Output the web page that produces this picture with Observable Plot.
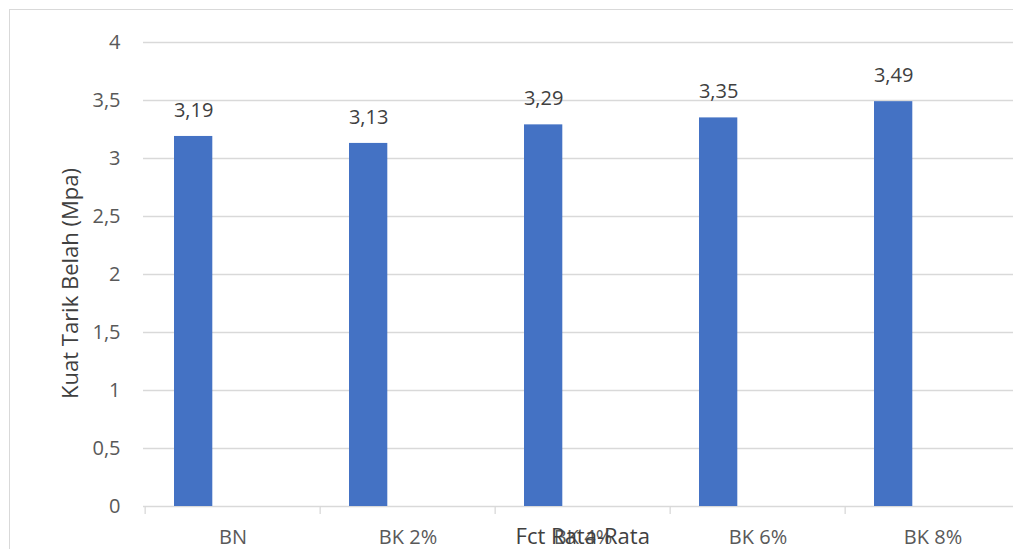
<!DOCTYPE html>
<html>
<head>
<meta charset="utf-8">
<script src="https://cdn.jsdelivr.net/npm/d3@7"></script>
<script src="https://cdn.jsdelivr.net/npm/@observablehq/plot@0.6"></script>
<style>
  html, body { margin: 0; padding: 0; background: #fff; overflow: hidden; width: 1013px; height: 549px; }
  #wrap { position: relative; width: 1013px; height: 549px; overflow: hidden; }
  #border { position: absolute; left: 9px; top: 9px; width: 1100px; height: 700px; border: 1.3px solid #d9d9d9; box-sizing: border-box; }
  #chart { position: absolute; left: 0; top: 0; width: 1100px; }
  #chart svg { max-width: none !important; }
</style>
</head>
<body>
<div id="wrap">
  <div id="border"></div>
  <div id="chart"></div>
</div>
<script>
const categories = ["BN", "BK 2%", "BK 4%", "BK 6%", "BK 8%"];
const values = [3.19, 3.13, 3.29, 3.35, 3.49];
const yTicks = [0, 0.5, 1, 1.5, 2, 2.5, 3, 3.5, 4];
const seriesName = "Fct Rata-Rata";
const yLabel = "Kuat Tarik Belah (Mpa)";

const data = categories.map((c, i) => ({cat: c, val: values[i]}));
const comma = v => String(v).replace(".", ",");
const fmt2 = v => d3.format(".2f")(v).replace(".", ",");

const W = 1022, H = 549, ML = 143, MR = 0.5, MT = 42, MB = 43;
const bw = (W - ML - MR) / categories.length;

const chart = Plot.plot({
  width: W,
  height: H,
  marginLeft: ML,
  marginRight: MR,
  marginTop: MT,
  marginBottom: MB,
  style: {fontFamily: "'Open Sans', sans-serif", fontSize: "20px", color: "#595959", background: "transparent", overflow: "visible", maxWidth: "none"},
  x: {domain: categories, padding: 0, label: null},
  y: {domain: [0, 4], label: null},
  marks: [
    Plot.gridY(yTicks, {stroke: "#d9d9d9", strokeOpacity: 1, strokeWidth: 1.3}),
    Plot.axisY(yTicks, {tickSize: 0, tickPadding: 23, tickFormat: comma, fontSize: 20, label: null}),
    Plot.axisX({tickSize: 0, tickPadding: 23, fontSize: 20, label: null}),
    Plot.ruleX(categories, {x: d => d, dx: -bw / 2, insetTop: H - MT - MB, insetBottom: -8, stroke: "#d9d9d9", strokeWidth: 1.3}),
    Plot.barY(data, {x: "cat", y: "val", fill: "#4472C4", insetLeft: 29, insetRight: bw - 29 - 39}),
    Plot.text(data, {x: "cat", y: "val", text: d => fmt2(d.val), dx: 48.5 - bw / 2, dy: -26, fontSize: 20, fill: "#404040"}),
    Plot.text([yLabel], {frameAnchor: "left", textAnchor: "middle", text: d => d, rotate: -90, dx: -73, dy: 9, fontSize: 22, fill: "#404040"}),
    Plot.text([seriesName], {frameAnchor: "bottom", text: d => d, dy: 37, fontSize: 22, fill: "#404040"})
  ]
});
document.getElementById("chart").appendChild(chart);
</script>
</body>
</html>
